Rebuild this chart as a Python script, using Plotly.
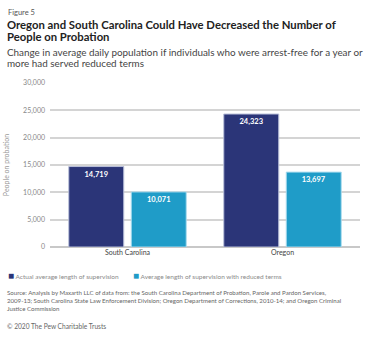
import plotly.graph_objects as go

# Data
categories = ["South Carolina", "Oregon"]
actual_length = [14719, 24323]
reduced_length = [10071, 13697]
y_ticks = [0, 5000, 10000, 15000, 20000, 25000, 30000]

series_names = [
    "Actual average length of supervision",
    "Average length of supervision with reduced terms",
]
DARK = "#2b3578"
LIGHT = "#1f9cc8"
FONT = "Lato, 'Open Sans', sans-serif"

fig = go.Figure()
fig.add_trace(go.Bar(
    x=categories, y=actual_length, name=series_names[0],
    marker=dict(color=DARK, line=dict(color="#b9bfd9", width=1)),
    texttemplate="<b>%{y:,}</b>", textposition="inside", insidetextanchor="end",
    textfont=dict(color="white", size=7.5, family=FONT),
    showlegend=False,
))
fig.add_trace(go.Bar(
    x=categories, y=reduced_length, name=series_names[1],
    marker=dict(color=LIGHT, line=dict(color="#a9dbee", width=1)),
    texttemplate="<b>%{y:,}</b>", textposition="inside", insidetextanchor="end",
    textfont=dict(color="white", size=7.5, family=FONT),
    showlegend=False,
))

# Header, legend and footer texts (x, y = top-left in pixels)
texts = [
    ("Figure 5", 7, 7, 7.5, "#555555"),
    ("<b>Oregon and South Carolina Could Have Decreased the Number of</b>", 6, 17, 11.3, "#222222"),
    ("<b>People on Probation</b>", 6, 29, 11.3, "#222222"),
    ("Change in average daily population if individuals who were arrest-free for a year or", 6, 45, 9.9, "#444444"),
    ("more had served reduced terms", 6, 56, 9.9, "#444444"),
    (f"<span style='color:{DARK};font-size:10px'>■</span> {series_names[0]}", 7, 268, 6.5, "#8a8a8a"),
    (f"<span style='color:{LIGHT};font-size:10px'>■</span> {series_names[1]}", 132, 268, 6.5, "#8a8a8a"),
    ("Source: Analysis by Maxarth LLC of data from: the South Carolina Department of Probation, Parole and Pardon Services,<br>"
     "2009-13; South Carolina State Law Enforcement Division; Oregon Department of Corrections, 2010-14; and Oregon Criminal<br>"
     "Justice Commission", 6, 288, 6.1, "#666666"),
    ("© 2020 The Pew Charitable Trusts", 6, 321, 6.6, "#666666"),
]

L, R, T, B = 50, 15, 83, 91
W, H = 375, 338
plot_w = W - L - R
plot_h = H - T - B

fig.update_layout(
    width=W, height=H,
    margin=dict(l=L, r=R, t=T, b=B),
    paper_bgcolor="white", plot_bgcolor="white",
    font=dict(family=FONT),
    barmode="group", bargap=0.194, bargroupgap=0.12,
    xaxis=dict(showgrid=False, ticks="", tickfont=dict(size=7, color="#444444"),
               showline=False, automargin=False),
    yaxis=dict(range=[0, 30000], tickvals=y_ticks, tickformat=",",
               showgrid=True, gridcolor="#d4d4d4", gridwidth=1.5,
               zeroline=True, zerolinecolor="#c8c8c8", zerolinewidth=1.5,
               tickfont=dict(size=7, color="#888888"), ticklabelstandoff=4,
               automargin=False,
               title=dict(text="People on probation", font=dict(size=7, color="#999999"), standoff=12)),
)

for text, px, py, size, color in texts:
    fig.add_annotation(
        text=text, xref="paper", yref="paper",
        x=(px - L) / plot_w, y=(H - py - B) / plot_h,
        xanchor="left", yanchor="top", showarrow=False, align="left",
        borderpad=0, font=dict(size=size, color=color, family=FONT),
    )

fig.write_html("out.html")
